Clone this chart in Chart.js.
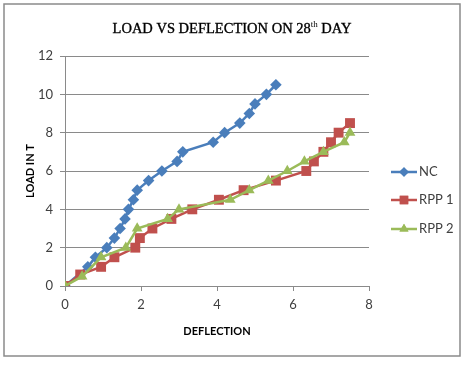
<!DOCTYPE html>
<html>
<head>
<meta charset="utf-8">
<script src="https://cdn.jsdelivr.net/npm/chart.js@4.4.0/dist/chart.umd.min.js"></script>
<style>
  html, body { margin: 0; padding: 0; background: #fff; }
  #wrap { width: 466px; height: 367px; position: relative; }
</style>
</head>
<body>
<div id="wrap"><canvas id="c" width="466" height="367"></canvas></div>
<script>
// ---- data ----
const seriesNames = ["NC", "RPP 1", "RPP 2"];
const ncDeflection  = [0, 0.6, 0.8, 1.1, 1.3, 1.45, 1.58, 1.67, 1.8, 1.9, 2.2, 2.55, 2.95, 3.1, 3.9, 4.2, 4.6, 4.85, 5.0, 5.3, 5.55];
const ncLoad        = [0, 1, 1.5, 2, 2.5, 3, 3.5, 4, 4.5, 5, 5.5, 6, 6.5, 7, 7.5, 8, 8.5, 9, 9.5, 10, 10.5];
const rpp1Deflection = [0, 0.4, 0.95, 1.3, 1.85, 1.97, 2.3, 2.8, 3.35, 4.05, 4.7, 5.55, 6.35, 6.55, 6.8, 7.0, 7.2, 7.5];
const rpp1Load       = [0, 0.6, 1, 1.5, 2, 2.5, 3, 3.5, 4, 4.5, 5, 5.5, 6, 6.5, 7, 7.5, 8, 8.5];
const rpp2Deflection = [0, 0.45, 0.95, 1.6, 1.9, 2.7, 3.0, 4.35, 4.85, 5.35, 5.85, 6.3, 6.8, 7.35, 7.5];
const rpp2Load       = [0, 0.5, 1.5, 2, 3, 3.5, 4, 4.5, 5, 5.5, 6, 6.5, 7, 7.5, 8];
const xTicks = [0, 2, 4, 6, 8];
const yTicks = [0, 2, 4, 6, 8, 10, 12];
const titleMain = "LOAD VS DEFLECTION ON 28";
const titleSup = "th";
const titleEnd = " DAY";
const xTitle = "DEFLECTION";
const yTitle = "LOAD IN T";

const colors = ["#4A7EBB", "#C0504D", "#9BBB59"];
const styles = ["rectRot", "rect", "triangle"];
const radii = [5.8, 7, 6.2];

function pts(xs, ys) { return xs.map((x, i) => ({ x: x, y: ys[i] })); }
const allX = [ncDeflection, rpp1Deflection, rpp2Deflection];
const allY = [ncLoad, rpp1Load, rpp2Load];

const datasets = seriesNames.map((n, i) => ({
  label: n,
  data: pts(allX[i], allY[i]),
  borderColor: colors[i],
  backgroundColor: colors[i],
  borderWidth: 2.5,
  pointStyle: styles[i],
  pointRadius: radii[i],
  pointBorderWidth: 0,
  pointBackgroundColor: colors[i],
  tension: 0,
  order: 3 - i
}));

const tickFont = { family: "Lato", size: 13 };
const tickColor = "#404040";

const framePlugin = {
  id: "frame",
  beforeDraw(chart) {
    const ctx = chart.ctx;
    ctx.save();
    ctx.fillStyle = "#fff";
    ctx.fillRect(0, 0, chart.width, chart.height);
    ctx.strokeStyle = "#8a8a8a";
    ctx.lineWidth = 1.5;
    ctx.strokeRect(4, 4, 456, 352);
    ctx.restore();
  },
  afterDraw(chart) {
    const ctx = chart.ctx;
    ctx.save();
    // title with superscript
    ctx.fillStyle = "#000";
    ctx.strokeStyle = "#000";
    ctx.lineWidth = 0.35;
    ctx.textBaseline = "alphabetic";
    const mainFont = "14.5px 'Liberation Serif'";
    const supFont = "9px 'Liberation Serif'";
    ctx.font = mainFont;
    const w1 = ctx.measureText(titleMain).width;
    const w3 = ctx.measureText(titleEnd).width;
    ctx.font = supFont;
    const w2 = ctx.measureText(titleSup).width;
    const total = w1 + w2 + w3;
    let x = 232 - total / 2;
    const base = 33;
    ctx.font = mainFont;
    ctx.fillText(titleMain, x, base);
    ctx.strokeText(titleMain, x, base);
    x += w1;
    ctx.font = supFont;
    ctx.fillText(titleSup, x, base - 6);
    x += w2;
    ctx.font = mainFont;
    ctx.fillText(titleEnd, x, base);
    ctx.strokeText(titleEnd, x, base);

    // legend
    const ly = [172, 200, 229];
    ctx.font = "13px Lato";
    ctx.textBaseline = "middle";
    seriesNames.forEach((n, i) => {
      ctx.strokeStyle = colors[i];
      ctx.lineWidth = 2.5;
      ctx.beginPath();
      ctx.moveTo(391, ly[i]);
      ctx.lineTo(417, ly[i]);
      ctx.stroke();
      ctx.fillStyle = colors[i];
      Chart.helpers.drawPoint(ctx, { pointStyle: styles[i], radius: radii[i] - 1, borderWidth: 0 }, 404, ly[i]);
      ctx.fill();
      ctx.fillStyle = tickColor;
      ctx.textAlign = "left";
      ctx.fillText(n, 419, ly[i]);
    });
    ctx.restore();
  }
};

new Chart(document.getElementById("c"), {
  type: "line",
  data: { datasets: datasets },
  options: {
    responsive: false,
    animation: false,
    devicePixelRatio: 1,
    layout: { padding: { top: 56, right: 97, bottom: 0, left: 0 } },
    plugins: { legend: { display: false }, title: { display: false }, tooltip: { enabled: false } },
    scales: {
      x: {
        type: "linear",
        min: 0, max: 8,
        afterBuildTicks(scale) { scale.ticks = xTicks.map(v => ({ value: v })); },
        afterFit(scale) { scale.height = 81; },
        ticks: { font: tickFont, color: tickColor, padding: 6 },
        grid: { drawOnChartArea: false, drawTicks: true, tickLength: 5, color: "#8a8a8a" },
        border: { color: "#8a8a8a", width: 1 },
        title: { display: true, text: xTitle, font: { family: "Lato", size: 11, weight: "bold" }, color: "#000", padding: { top: 0, bottom: 29 } }
      },
      y: {
        min: 0, max: 12,
        afterBuildTicks(scale) { scale.ticks = yTicks.map(v => ({ value: v })); },
        afterFit(scale) { scale.width = 65; },
        ticks: { font: tickFont, color: tickColor, padding: 7 },
        grid: { drawTicks: true, tickLength: 5, color: "#8a8a8a" },
        border: { color: "#8a8a8a", width: 1 },
        title: { display: true, text: yTitle, font: { family: "Lato", size: 11, weight: "bold" }, color: "#000", padding: { top: 24, bottom: 0 } }
      }
    }
  },
  plugins: [framePlugin]
});
</script>
</body>
</html>
